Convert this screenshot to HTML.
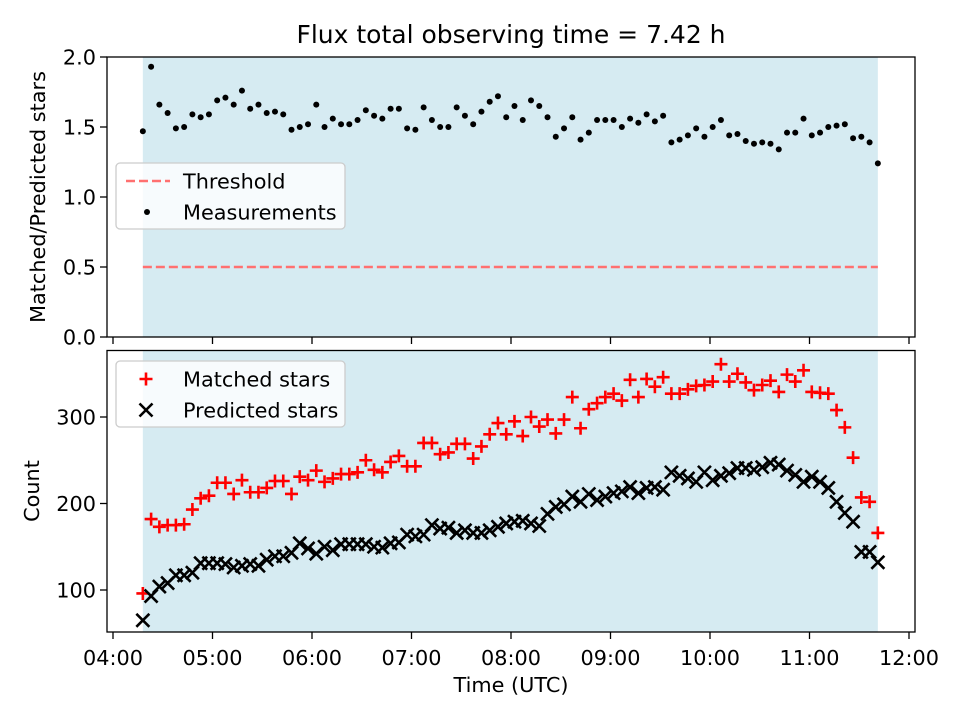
<!DOCTYPE html>
<html><head><meta charset="utf-8">
<style>
html,body{margin:0;padding:0;background:#fff;}
svg{display:block;font-family:"DejaVu Sans","Liberation Sans",sans-serif;}
</style></head>
<body>
<svg id="fig" width="960" height="720" viewBox="0 0 960 720" xmlns="http://www.w3.org/2000/svg">
<rect width="960" height="720" fill="#fff"/>
<text x="511" y="43" font-size="25" text-anchor="middle" fill="#000">Flux total observing time = 7.42 h</text>
<g id="topPanel"></g>
<g id="botPanel"></g>
<text transform="translate(45,197) rotate(-90)" font-size="20.8" text-anchor="middle">Matched/Predicted stars</text>
<text transform="translate(39,491) rotate(-90)" font-size="20.8" text-anchor="middle">Count</text>
<text x="511" y="692" font-size="20.8" text-anchor="middle">Time (UTC)</text>
</svg>
<script>
const ratioValues=[1.47,1.93,1.66,1.60,1.49,1.50,1.59,1.57,1.59,1.69,1.71,1.66,1.76,1.63,1.66,1.60,1.61,1.59,1.48,1.50,1.52,1.66,1.50,1.56,1.52,1.52,1.55,1.62,1.58,1.56,1.63,1.63,1.49,1.48,1.64,1.55,1.50,1.50,1.64,1.58,1.52,1.61,1.68,1.72,1.57,1.65,1.55,1.69,1.65,1.57,1.43,1.49,1.57,1.41,1.46,1.55,1.55,1.55,1.50,1.56,1.53,1.59,1.54,1.58,1.39,1.41,1.44,1.49,1.43,1.50,1.55,1.44,1.45,1.40,1.38,1.39,1.38,1.34,1.46,1.46,1.56,1.44,1.46,1.50,1.51,1.52,1.42,1.43,1.39,1.24];
const matchedValues=[96,182,173,175,175,176,193,206,209,224,224,211,227,213,213,218,226,226,211,231,227,238,225,229,234,234,236,250,239,236,248,255,243,243,270,270,257,259,269,269,252,266,280,293,280,295,278,300,289,297,281,297,323,287,309,316,323,327,319,343,323,344,335,346,327,327,332,336,337,341,361,341,350,340,331,337,342,329,349,341,354,329,328,327,308,288,253,207,202,166];
const predictedValues=[65,93,104,108,117,117,120,131,131,131,130,126,128,130,128,135,139,139,143,154,148,142,150,146,153,153,153,153,150,149,154,155,164,162,164,175,171,172,166,169,166,166,169,173,177,179,180,177,174,188,196,199,208,202,211,204,208,212,214,219,212,218,219,216,236,232,229,225,236,227,232,235,241,241,239,242,247,245,238,233,225,231,225,218,202,189,179,144,144,132];
const startHour=4.30, stepMin=4.98;
const xTickLabels=["04:00","05:00","06:00","07:00","08:00","09:00","10:00","11:00","12:00"];
const xTickHours=[4,5,6,7,8,9,10,11,12];
const ratioTicks=[0,0.5,1.0,1.5,2.0];
const countTicks=[100,200,300];
const threshold=0.5;

const NS="http://www.w3.org/2000/svg";
function mk(tag,attrs,parent){const e=document.createElementNS(NS,tag);for(const k in attrs)e.setAttribute(k,attrs[k]);parent.appendChild(e);return e;}
const L=107,R=915;
const xs=h=>113+(h-4)*99.5;
const yT=v=>337-v*140;
const yB=c=>590-(c-100)*0.865;
const times=ratioValues.map((_,i)=>startHour+i*stepMin/60);
const x0=xs(times[0]), x1=xs(times[times.length-1]);

function panel(g,tp,bt,yfun,ticks,fmt,showLabels){
  let s=mk('rect',{x:x0,y:tp,width:x1-x0,height:bt-tp,fill:'#add8e6','fill-opacity':0.5},g);
  
  
  xTickHours.forEach((h,i)=>{
    let t=mk('line',{x1:xs(h),x2:xs(h),y1:bt,y2:bt+7,stroke:'#000','stroke-width':1.3},g);
    
    
    if(showLabels){let tx=mk('text',{x:xs(h),y:bt+33,'font-size':20.8,'text-anchor':'middle'},g);tx.textContent=xTickLabels[i];
      
      }
  });
  ticks.forEach(v=>{
    let t=mk('line',{x1:L-7,x2:L,y1:yfun(v),y2:yfun(v),stroke:'#000','stroke-width':1.3},g);
    
    
    let tx=mk('text',{x:L-11,y:yfun(v)+7.5,'font-size':20.8,'text-anchor':'end'},g);tx.textContent=fmt(v);
    
    
  });
}
const topG=document.getElementById('topPanel'), botG=document.getElementById('botPanel');
panel(topG,57,337,yT,ratioTicks,v=>v.toFixed(1),false);
panel(botG,350.5,632,yB,countTicks,v=>String(v),true);

let th=mk('line',{x1:x0,x2:x1,y1:yT(threshold),y2:yT(threshold),stroke:'#ff7070','stroke-width':2.5,'stroke-dasharray':'9,4'},topG);


ratioValues.forEach((v,i)=>{
  let c=mk('circle',{cx:xs(times[i]),cy:yT(v),r:3,fill:'#000'},topG);
  
  
});
function plus(g,x,y,name){let p=mk('path',{d:`M${x-6.5},${y}H${x+6.5}M${x},${y-6.5}V${y+6.5}`,stroke:'#f00','stroke-width':2.6,fill:'none'},g);
  
  }
function cross(g,x,y,name){let p=mk('path',{d:`M${x-6.5},${y-6.5}L${x+6.5},${y+6.5}M${x-6.5},${y+6.5}L${x+6.5},${y-6.5}`,stroke:'#000','stroke-width':2.6,fill:'none'},g);
  
  }
matchedValues.forEach((v,i)=>plus(botG,xs(times[i]),yB(v),'matched-point'));
predictedValues.forEach((v,i)=>cross(botG,xs(times[i]),yB(v),'predicted-point'));

[[topG,57,337],[botG,350.5,632]].forEach(([g,t,b])=>{
  let f=mk('rect',{x:L,y:t,width:R-L,height:b-t,fill:'none',stroke:'#000','stroke-width':1.3},g);
  
  
});

function legend(g,y,entries){
  let lg=mk('g',{},g);
  
  
  let b=mk('rect',{x:116,y:y,width:229,height:66,rx:4,fill:'#fff','fill-opacity':0.8,stroke:'#cccccc','stroke-width':1.3},lg);
  
  
  entries.forEach((e,i)=>{
    const cy=y+18+i*31;
    e.draw(lg,cy);
    let t=mk('text',{x:183,y:cy+7.5,'font-size':20.8},lg);t.textContent=e.label;
    
    
  });
}
legend(topG,163,[
  {label:'Threshold',draw:(g,cy)=>{let l=mk('line',{x1:126,x2:170,y1:cy,y2:cy,stroke:'#ff7070','stroke-width':2.5,'stroke-dasharray':'9,4'},g);
    
    }},
  {label:'Measurements',draw:(g,cy)=>{let c=mk('circle',{cx:147,cy:cy,r:3,fill:'#000'},g);
    
    }}
]);
legend(botG,361,[
  {label:'Matched stars',draw:(g,cy)=>plus(g,146,cy,'legend-matched-swatch')},
  {label:'Predicted stars',draw:(g,cy)=>cross(g,146,cy,'legend-predicted-swatch')}
]);
</script>
</body></html>
